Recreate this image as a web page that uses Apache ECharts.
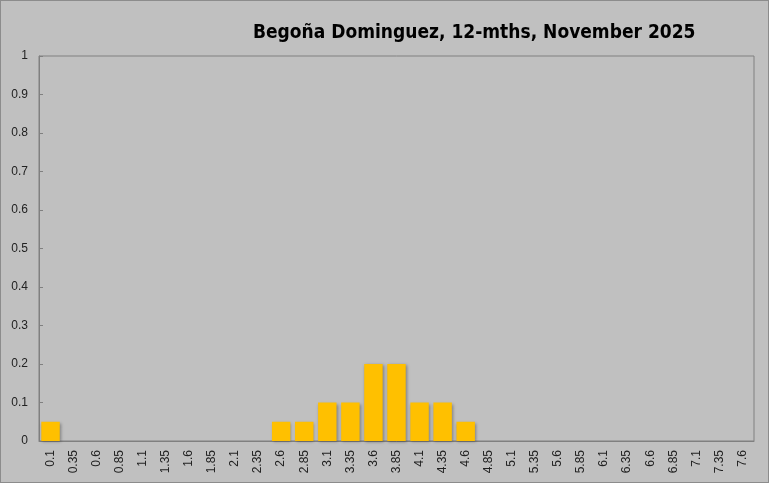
<!DOCTYPE html>
<html>
<head>
<meta charset="utf-8">
<script src="https://cdn.jsdelivr.net/npm/echarts@6/dist/echarts.min.js"></script>
<style>
  html, body { margin: 0; padding: 0; background: #c0c0c0; }
  #chart { width: 767px; height: 481px; border: 1px solid #8c8c8c; }
</style>
</head>
<body>
<div id="chart"></div>
<script>
// bins of the histogram
var categories = ["0.1", "0.35", "0.6", "0.85", "1.1", "1.35", "1.6", "1.85", "2.1", "2.35",
  "2.6", "2.85", "3.1", "3.35", "3.6", "3.85", "4.1", "4.35", "4.6", "4.85",
  "5.1", "5.35", "5.6", "5.85", "6.1", "6.35", "6.6", "6.85", "7.1", "7.35", "7.6"];
var shares = [0.05, 0, 0, 0, 0, 0, 0, 0, 0, 0,
  0.05, 0.05, 0.1, 0.1, 0.2, 0.2, 0.1, 0.1, 0.05, 0,
  0, 0, 0, 0, 0, 0, 0, 0, 0, 0, 0];
var yTicks = [0, 0.1, 0.2, 0.3, 0.4, 0.5, 0.6, 0.7, 0.8, 0.9, 1];

var chart = echarts.init(document.getElementById("chart"));

var option = {
  backgroundColor: "#c0c0c0",
  animation: false,
  title: {
    text: "Begoña Dominguez, 12-mths, November 2025",
    left: 247,
    top: 18,
    textStyle: {
      fontFamily: "'DejaVu Sans Condensed', 'Liberation Sans Narrow', sans-serif",
      fontWeight: "bold",
      fontSize: 19,
      color: "#000"
    }
  },
  grid: {
    left: 38,
    right: 14,
    top: 55,
    bottom: 41,
    show: true,
    borderColor: "#808080",
    borderWidth: 1,
    backgroundColor: "transparent"
  },
  xAxis: {
    type: "category",
    data: categories,
    axisLine: { lineStyle: { color: "#808080" } },
    axisTick: { inside: true, length: 4, lineStyle: { color: "#808080" } },
    axisLabel: {
      rotate: 90,
      interval: 0,
      margin: 9,
      fontFamily: "'Liberation Sans', Arial, sans-serif",
      fontSize: 12,
      color: "#222"
    }
  },
  yAxis: {
    type: "value",
    min: 0,
    max: 1,
    interval: 0.1,
    splitLine: { show: false },
    axisLine: { show: true, lineStyle: { color: "#808080" } },
    axisTick: { show: true, inside: true, length: 4, lineStyle: { color: "#808080" } },
    axisLabel: {
      margin: 11,
      fontFamily: "'Liberation Sans', Arial, sans-serif",
      fontSize: 12,
      color: "#222",
      formatter: function (v) {
        var s = yTicks.find(function (t) { return Math.abs(t - v) < 1e-6; });
        return s === undefined ? "" : String(s);
      }
    }
  },
  series: [
    {
      type: "bar",
      data: shares,
      barCategoryGap: "20%",
      itemStyle: {
        color: "#ffc000",
        shadowColor: "rgba(0,0,0,0.35)",
        shadowBlur: 3,
        shadowOffsetX: 1,
        shadowOffsetY: 1
      }
    }
  ]
};

chart.setOption(option);
</script>
</body>
</html>
